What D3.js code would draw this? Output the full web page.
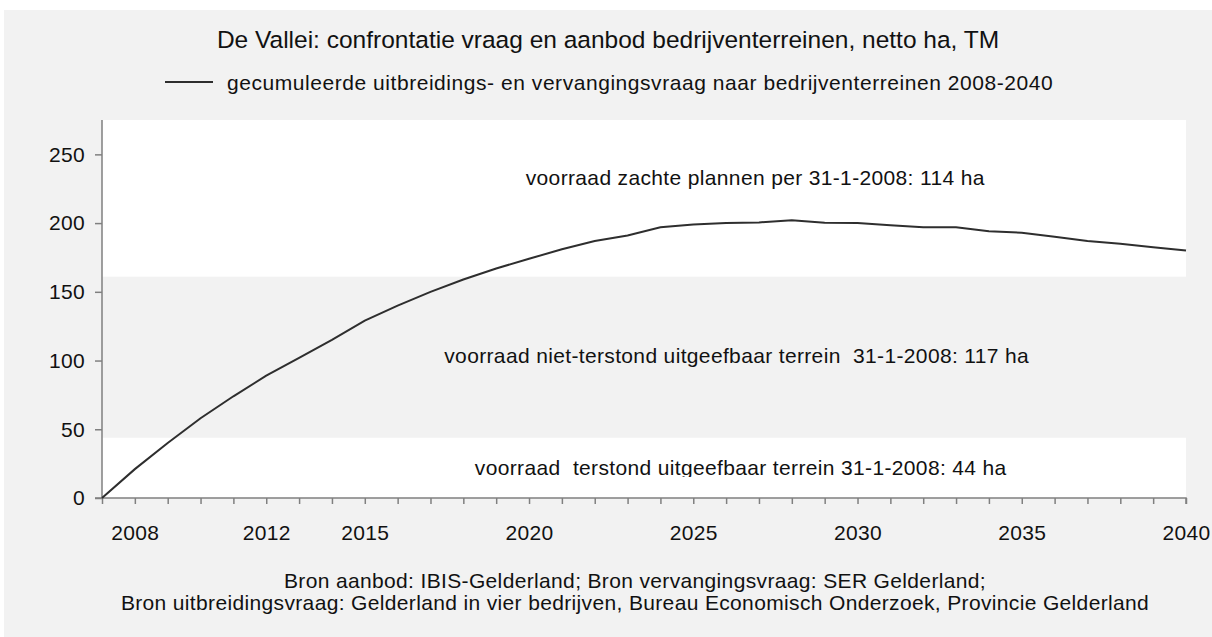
<!DOCTYPE html>
<html>
<head>
<meta charset="utf-8">
<script src="https://cdn.jsdelivr.net/npm/d3@7"></script>
<style>
  body { margin: 0; background: #fff; }
  svg { display: block; font-family: "Liberation Sans", Arial, sans-serif; }
</style>
</head>
<body>
<div id="chart"></div>
<script>
const width = 1212;
const height = 637;

// years on the x axis (one tick per year)
const years = [2007, 2008, 2009, 2010, 2011, 2012, 2013, 2014, 2015, 2016, 2017, 2018,
  2019, 2020, 2021, 2022, 2023, 2024, 2025, 2026, 2027, 2028, 2029, 2030, 2031, 2032,
  2033, 2034, 2035, 2036, 2037, 2038, 2039, 2040];
const labelYears = [2008, 2012, 2015, 2020, 2025, 2030, 2035, 2040];

// cumulative demand, netto ha
const demand = [0, 21, 40, 58, 74, 89, 102, 115, 129, 140, 150, 159, 167, 174, 181, 187,
  191, 197, 199, 200, 200.5, 202, 200.3, 200, 198.5, 197, 197, 194, 193, 190, 187, 185,
  182.5, 180];

// supply stock per 31-1-2008, stacked from the bottom
const supplyNames = ["terstond", "niet-terstond", "zacht"];
const supplyValues = [44, 117, 114];
const supplyFill = ["#ffffff", "#f2f2f2", "#ffffff"];
const supplyLabels = [
  "voorraad  terstond uitgeefbaar terrein 31-1-2008: 44 ha",
  "voorraad niet-terstond uitgeefbaar terrein  31-1-2008: 117 ha",
  "voorraad zachte plannen per 31-1-2008: 114 ha"
];

const yTicks = [0, 50, 100, 150, 200, 250];

const title = "De Vallei: confrontatie vraag en aanbod bedrijventerreinen, netto ha, TM";
const legendText = "gecumuleerde uitbreidings- en vervangingsvraag naar bedrijventerreinen 2008-2040";
const sources = [
  "Bron aanbod: IBIS-Gelderland; Bron vervangingsvraag: SER Gelderland;",
  "Bron uitbreidingsvraag: Gelderland in vier bedrijven, Bureau Economisch Onderzoek, Provincie Gelderland"
];

const plot = { left: 102, right: 1186, top: 120, bottom: 498 };
// where the band labels start (year, value of baseline)
const labelAt = [[2018.35, 16.5], [2017.42, 98.5], [2019.9, 228]];

const fontSize = "21px";
const spacing = "0.35px";

const x = d3.scaleLinear().domain([2007, 2040]).range([plot.left, plot.right]);
const y = d3.scaleLinear().domain([0, d3.sum(supplyValues)]).range([plot.bottom, plot.top]);

const svg = d3.select("#chart").append("svg")
    .attr("width", width)
    .attr("height", height);

// outer grey frame
svg.append("rect")
    .attr("x", 4).attr("y", 10)
    .attr("width", width - 4).attr("height", height - 10)
    .attr("fill", "#f2f2f2");

// supply bands
const stacked = supplyValues.map((v, i) => {
  const lo = d3.sum(supplyValues.slice(0, i));
  return { name: supplyNames[i], lo, hi: lo + v, fill: supplyFill[i], label: supplyLabels[i], at: labelAt[i] };
});

svg.append("g")
  .selectAll("rect")
  .data(stacked)
  .join("rect")
    .attr("x", x(2007))
    .attr("width", x(2040) - x(2007))
    .attr("y", d => y(d.hi))
    .attr("height", d => y(d.lo) - y(d.hi))
    .attr("fill", d => d.fill);

// the bottom label is cut off just under its baseline in the original
svg.append("clipPath").attr("id", "cut")
  .append("rect")
    .attr("x", plot.left).attr("y", plot.top)
    .attr("width", plot.right - plot.left)
    .attr("height", 477 - plot.top);

svg.append("g")
    .style("font-size", fontSize)
    .style("letter-spacing", spacing)
    .attr("fill", "#111")
  .selectAll("text")
  .data(stacked)
  .join("text")
    .attr("clip-path", (d, i) => i === 0 ? "url(#cut)" : null)
    .attr("x", d => x(d.at[0]))
    .attr("y", d => y(d.at[1]))
    .style("white-space", "pre")
    .attr("xml:space", "preserve")
    .text(d => d.label);

// axes
const axisColor = "#808080";

const xAxis = svg.append("g")
    .attr("transform", `translate(0,${plot.bottom})`)
    .call(d3.axisBottom(x)
      .tickValues(years)
      .tickSize(6)
      .tickPadding(21)
      .tickFormat(d => labelYears.includes(d) ? String(d) : ""));

const yAxis = svg.append("g")
    .attr("transform", `translate(${plot.left},0)`)
    .call(d3.axisLeft(y)
      .tickValues(yTicks)
      .tickSize(7)
      .tickPadding(10)
      .tickFormat(d3.format("d")));

for (const ax of [xAxis, yAxis]) {
  ax.select(".domain").attr("stroke", axisColor).attr("stroke-width", 1.5);
  ax.selectAll(".tick line").attr("stroke", axisColor).attr("stroke-width", 1.5);
  ax.selectAll(".tick text")
    .attr("fill", "#111")
    .style("font-size", fontSize)
    .style("letter-spacing", spacing)
    .style("font-family", "'Liberation Sans', Arial, sans-serif");
}
yAxis.select(".domain").attr("d", `M-7,${plot.bottom}H0V${plot.top}`);
xAxis.select(".domain").attr("d", `M${plot.left},0H${plot.right}V6`);

// demand line
const line = d3.line()
    .x((d, i) => x(years[i]))
    .y(d => y(d));

svg.append("path")
    .datum(demand)
    .attr("fill", "none")
    .attr("stroke", "#2e2e2e")
    .attr("stroke-width", 2)
    .attr("d", line);

// title + legend
svg.append("text")
    .attr("x", 608).attr("y", 48)
    .attr("text-anchor", "middle")
    .style("font-size", "24.5px")
    .attr("fill", "#111")
    .text(title);

svg.append("line")
    .attr("x1", 165).attr("x2", 213)
    .attr("y1", 82).attr("y2", 82)
    .attr("stroke", "#2e2e2e")
    .attr("stroke-width", 2);

svg.append("text")
    .attr("x", 227).attr("y", 90)
    .style("font-size", fontSize)
    .style("letter-spacing", "0.55px")
    .attr("fill", "#111")
    .text(legendText);

// sources
svg.append("g")
    .attr("text-anchor", "middle")
    .style("font-size", fontSize)
    .style("letter-spacing", spacing)
    .attr("fill", "#111")
  .selectAll("text")
  .data(sources)
  .join("text")
    .attr("x", 635)
    .attr("y", (d, i) => 588 + i * 22)
    .text(d => d);
</script>
</body>
</html>
